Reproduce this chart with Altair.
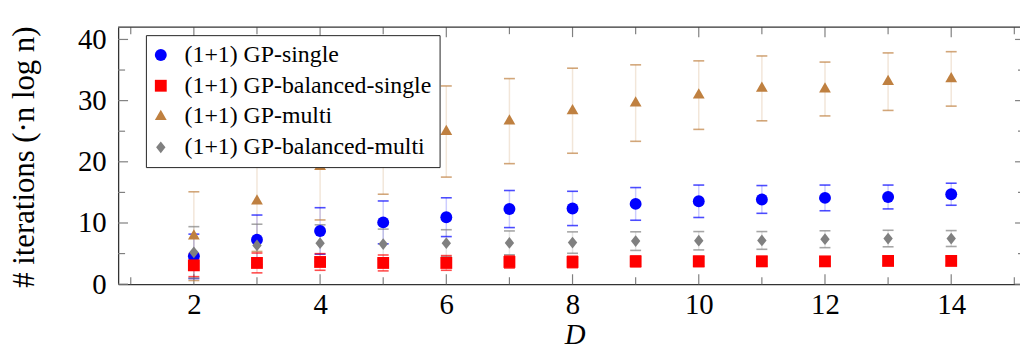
import altair as alt
import pandas as pd

# ---------------- data ----------------
D = list(range(2, 15))
series_names = [
    "(1+1) GP-single",
    "(1+1) GP-balanced-single",
    "(1+1) GP-multi",
    "(1+1) GP-balanced-multi",
]
single_mean = [4.55, 7.25, 8.7, 10.1, 10.95, 12.28, 12.38, 13.12, 13.55, 13.85, 14.1, 14.25, 14.7]
single_std = [3.63, 4.05, 3.8, 3.5, 3.17, 3.03, 2.8, 2.67, 2.65, 2.27, 2.1, 1.95, 1.8]
bsingle_mean = [3.08, 3.47, 3.63, 3.47, 3.47, 3.63, 3.63, 3.73, 3.73, 3.73, 3.73, 3.8, 3.8]
bsingle_std = [1.85, 1.62, 1.36, 1.3, 1.2, 1.0, 0.95, 0.9, 0.85, 0.8, 0.75, 0.7, 0.7]
multi_mean = [7.85, 13.58, 19.2, 22.5, 24.95, 26.65, 28.35, 29.6, 30.9, 32.0, 31.9, 33.1, 33.55]
multi_std = [7.25, 8.23, 8.7, 7.8, 7.45, 6.95, 6.95, 6.25, 5.6, 5.3, 4.4, 4.7, 4.45]
bmulti_mean = [5.2, 6.33, 6.7, 6.55, 6.7, 6.75, 6.8, 7.04, 7.1, 7.15, 7.35, 7.46, 7.46]
bmulti_std = [4.2, 3.47, 3.0, 2.45, 2.2, 1.95, 1.75, 1.52, 1.5, 1.45, 1.38, 1.35, 1.3]

x_major_ticks = [2, 4, 6, 8, 10, 12, 14]
x_minor_ticks = [1, 3, 5, 7, 9, 11, 13, 15]
y_major_ticks = [0, 10, 20, 30, 40]
y_minor_ticks = [5, 15, 25, 35]

# ---------------- styling ----------------
colors = ["#0000ff", "#ff0000", "#bf8040", "#808080"]
shapes = ["circle", "square", "M0,-1.155L1,0.577L-1,0.577Z", "M-0.8,0L0,-1L0.8,0L0,1Z"]
sizes = [144, 140, 115, 100]
FONT = "Liberation Serif"
W, H = 909, 259
FRAME = "#333333"
TICK = "#808080"

rows = []
for name, m, s in zip(series_names,
                      [single_mean, bsingle_mean, multi_mean, bmulti_mean],
                      [single_std, bsingle_std, multi_std, bmulti_std]):
    for d, mv, sv in zip(D, m, s):
        rows.append({"D": d, "series": name, "mean": mv, "std": sv})
df = pd.DataFrame(rows)

xs = alt.Scale(domain=[0.8, 15.09], nice=False, zero=False)
ys = alt.Scale(domain=[0, 42], nice=False, zero=False)
cs = alt.Scale(domain=series_names, range=colors)
ss = alt.Scale(domain=series_names, range=shapes)
zs = alt.Scale(domain=series_names, range=sizes)

xaxis = alt.Axis(
    values=x_major_ticks, format="d", ticks=False, grid=False,
    domain=True, domainColor=FRAME, domainWidth=1.3,
    labelFont=FONT, labelFontSize=29, labelColor="black", labelPadding=7,
    title="D", titleFont=FONT, titleFontSize=29, titleFontStyle="italic",
    titleFontWeight="normal", titleColor="black",
    titleX=460, titleY=60, titleAlign="center", titleBaseline="alphabetic",
)
yaxis = alt.Axis(
    values=y_major_ticks, format="d", ticks=False, grid=False,
    domain=True, domainColor=FRAME, domainWidth=1.3,
    labelFont=FONT, labelFontSize=29, labelColor="black", labelPadding=12,
    title="# iterations (·n log n)", titleFont=FONT, titleFontSize=31,
    titleFontWeight="normal", titleColor="black",
    titleX=-94, titleY=H / 2 + 1, titleAngle=-90, titleAlign="center",
    titleBaseline="middle",
)
legend = alt.Legend(
    title=None, orient="none", legendX=28, legendY=8,
    fillColor="white", strokeColor="#222222", padding=8,
    labelFont=FONT, labelFontSize=24, labelColor="black", labelLimit=500,
    labelOffset=12, rowPadding=7, symbolOffset=-5,
    symbolStrokeWidth=0, symbolOpacity=1,
)

base = alt.Chart(df).transform_calculate(
    lo="datum.mean - datum.std", hi="datum.mean + datum.std"
)
col = alt.Color("series:N", scale=cs, legend=legend)

bars = base.mark_rule(strokeWidth=1.5, opacity=0.2).encode(
    x=alt.X("D:Q", scale=xs, axis=xaxis),
    y=alt.Y("lo:Q", scale=ys, axis=yaxis),
    y2="hi:Q",
    color=col,
)
cap_lo = base.mark_tick(orient="horizontal", size=11, thickness=1.6, opacity=0.7).encode(
    x=alt.X("D:Q", scale=xs, axis=xaxis),
    y=alt.Y("lo:Q", scale=ys, axis=yaxis),
    color=col,
)
cap_hi = base.mark_tick(orient="horizontal", size=11, thickness=1.6, opacity=0.7).encode(
    x=alt.X("D:Q", scale=xs, axis=xaxis),
    y=alt.Y("hi:Q", scale=ys, axis=yaxis),
    color=col,
)
points = base.mark_point(filled=True, opacity=1, strokeWidth=0).encode(
    x=alt.X("D:Q", scale=xs, axis=xaxis),
    y=alt.Y("mean:Q", scale=ys, axis=yaxis),
    color=col,
    shape=alt.Shape("series:N", scale=ss, legend=legend),
    size=alt.Size("series:N", scale=zs, legend=legend),
)

# frame top line
one = pd.DataFrame({"k": [0]})
top_line = alt.Chart(one).mark_rule(color=FRAME, strokeWidth=1.3).encode(
    x=alt.value(0), x2=alt.value(W), y=alt.value(0)
)

# inward ticks
xmaj = pd.DataFrame({"t": x_major_ticks})
xmin = pd.DataFrame({"t": x_minor_ticks})
ymaj = pd.DataFrame({"t": y_major_ticks})
ymin = pd.DataFrame({"t": y_minor_ticks})


def xticks(data, y0, y1):
    return alt.Chart(data).mark_rule(color=TICK, strokeWidth=1.2).encode(
        x=alt.X("t:Q", scale=xs, axis=xaxis), y=alt.value(y0), y2=alt.value(y1)
    )


def yticks(data, x0, x1):
    return alt.Chart(data).mark_rule(color=TICK, strokeWidth=1.2).encode(
        y=alt.Y("t:Q", scale=ys, axis=yaxis), x=alt.value(x0), x2=alt.value(x1)
    )


tick_layers = [
    xticks(xmaj, H, H - 10), xticks(xmin, H, H - 7),
    xticks(xmaj, 0, 10), xticks(xmin, 0, 7),
    yticks(ymaj, 0, 10), yticks(ymin, 0, 7),
    yticks(ymaj, W - 5, W), yticks(ymin, W - 2, W),
]

chart = alt.layer(
    *tick_layers, bars, cap_lo, cap_hi, points, top_line
).properties(
    width=W, height=H,
    padding={"left": 111, "top": 18, "right": 0, "bottom": 67},
    autosize=alt.AutoSizeParams(type="none"),
).configure_view(stroke=None).configure_axis(
    titleFont=FONT, labelFont=FONT
).configure_legend(labelFont=FONT)

chart.save("out.html", embed_options={"renderer": "svg", "actions": False})
